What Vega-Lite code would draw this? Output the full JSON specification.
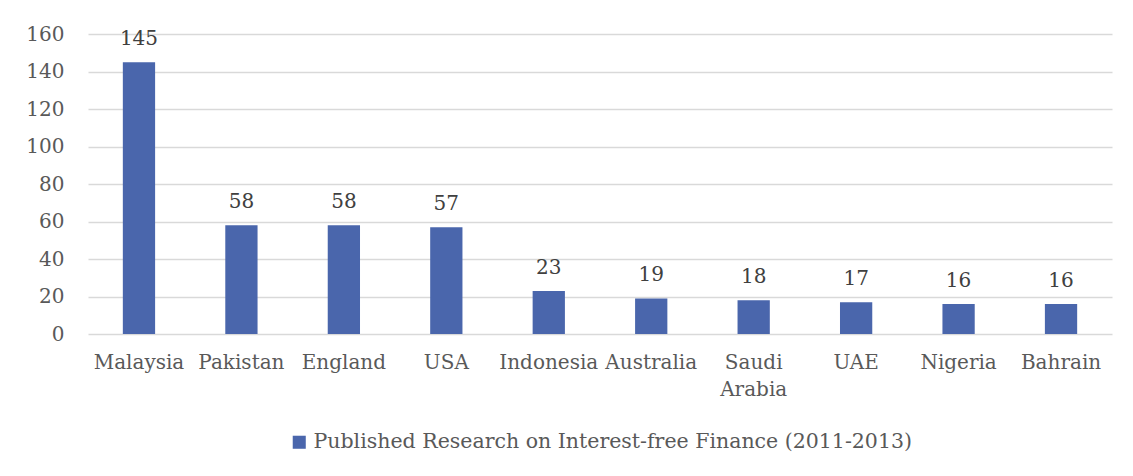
{
  "$schema": "https://vega.github.io/schema/vega-lite/v6.json",
  "width": 1133,
  "height": 476,
  "autosize": {"type": "fit", "contains": "padding"},
  "padding": {"left": 25, "top": 24, "right": 21, "bottom": 23},
  "background": "white",
  "data": {
    "values": [
      {"country": "Malaysia", "value": 145, "series": "Published Research on Interest-free Finance (2011-2013)"},
      {"country": "Pakistan", "value": 58, "series": "Published Research on Interest-free Finance (2011-2013)"},
      {"country": "England", "value": 58, "series": "Published Research on Interest-free Finance (2011-2013)"},
      {"country": "USA", "value": 57, "series": "Published Research on Interest-free Finance (2011-2013)"},
      {"country": "Indonesia", "value": 23, "series": "Published Research on Interest-free Finance (2011-2013)"},
      {"country": "Australia", "value": 19, "series": "Published Research on Interest-free Finance (2011-2013)"},
      {"country": "Saudi Arabia", "value": 18, "series": "Published Research on Interest-free Finance (2011-2013)"},
      {"country": "UAE", "value": 17, "series": "Published Research on Interest-free Finance (2011-2013)"},
      {"country": "Nigeria", "value": 16, "series": "Published Research on Interest-free Finance (2011-2013)"},
      {"country": "Bahrain", "value": 16, "series": "Published Research on Interest-free Finance (2011-2013)"}
    ]
  },
  "encoding": {
    "x": {
      "field": "country", "type": "nominal", "sort": null,
      "scale": {"paddingInner": 0.685, "paddingOuter": 0.34},
      "axis": {
        "title": null, "labelAngle": 0, "domain": false, "ticks": false, "grid": false,
        "labelFont": "DejaVu Serif", "labelFontSize": 20, "labelColor": "#595959",
        "labelPadding": 18, "labelLimit": 200, "labelLineHeight": 27,
        "labelExpr": "datum.label == 'Saudi Arabia' ? ['Saudi', 'Arabia'] : datum.label"
      }
    },
    "y": {
      "field": "value", "type": "quantitative",
      "scale": {"domain": [0, 160]},
      "axis": {
        "title": null, "values": [0, 20, 40, 60, 80, 100, 120, 140, 160],
        "domain": false, "ticks": false, "gridColor": "#d9d9d9", "gridWidth": 1.3,
        "labelFont": "DejaVu Serif", "labelFontSize": 20, "labelColor": "#595959",
        "labelPadding": 24
      }
    }
  },
  "layer": [
    {
      "mark": {"type": "bar", "color": "#4a66ac"},
      "encoding": {
        "color": {
          "field": "series", "type": "nominal",
          "scale": {"range": ["#4a66ac"]},
          "legend": {
            "orient": "bottom", "title": null, "symbolType": "square", "symbolSize": 170,
            "labelFont": "DejaVu Serif", "labelFontSize": 20.5, "labelColor": "#595959",
            "labelLimit": 800, "symbolStrokeWidth": 0, "offset": 33, "labelOffset": 4
          }
        }
      }
    },
    {
      "mark": {"type": "text", "dy": -23, "font": "DejaVu Serif", "fontSize": 20, "color": "#404040"},
      "encoding": {"text": {"field": "value", "type": "quantitative"}}
    }
  ],
  "config": {
    "view": {"stroke": null},
    "legend": {"layout": {"bottom": {"anchor": "middle"}}}
  }
}
